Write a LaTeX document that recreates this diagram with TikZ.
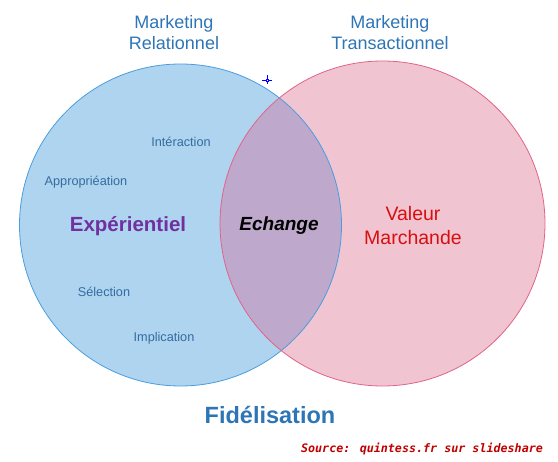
\documentclass[tikz,border=0pt]{standalone}
\usepackage{fontspec}
\setmainfont{Liberation Sans}
\newfontfamily\srcfont{DejaVu Sans Mono}
\usetikzlibrary{positioning}

\definecolor{leftfill}{RGB}{174,212,239}
\definecolor{leftline}{RGB}{74,157,222}
\definecolor{rightfill}{RGB}{241,196,210}
\definecolor{rightline}{RGB}{224,100,138}
\definecolor{overlapfill}{RGB}{190,168,204}
\definecolor{headblue}{RGB}{46,117,182}
\definecolor{itemblue}{RGB}{52,108,160}
\definecolor{expurple}{RGB}{112,48,160}
\definecolor{valred}{RGB}{215,15,15}
\definecolor{srcred}{RGB}{192,0,0}

\begin{document}
\begin{tikzpicture}[
    x=1pt, y=-1pt,
    heading/.style={align=center, text=headblue, font=\fontsize{18}{21}\selectfont, inner sep=0pt},
    item/.style={text=itemblue, font=\fontsize{12.7}{15}\selectfont, inner sep=0pt},
    area/.style={inner sep=0pt, align=center},
]
    \useasboundingbox (0,0) rectangle (558,462);

    % Circles
    \coordinate (relc) at (180.5,225);
    \coordinate (tranc) at (382.5,223.5);
    \fill[leftfill] (relc) circle[radius=161pt];
    \fill[rightfill] (tranc) circle[radius=162.5pt];
    \begin{scope}
        \clip (relc) circle[radius=161pt];
        \fill[overlapfill] (tranc) circle[radius=162.5pt];
    \end{scope}
    \draw[leftline, line width=0.8pt] (relc) circle[radius=161pt];
    \draw[rightline, line width=0.8pt] (tranc) circle[radius=162.5pt];

    % Headings
    \node[heading] (rel) at (174,33) {Marketing\\Relationnel};
    \node[heading] (tran) at (390,33) {Marketing\\Transactionnel};

    % Marker
    \draw[blue, thick] (262,80) -- (272,80) (267,75.5) -- (267,84);
    \draw[blue, fill=white] (265.8,78.8) rectangle (268.2,81.2);

    % Relational items
    \node[item] (inter) at (181,142) {Intéraction};
    \node[item] (appro) at (86,182) {Appropriéation};
    \node[item] (selec) at (104,292) {Sélection};
    \node[item] (impli) at (164,338) {Implication};

    % Areas
    \node[area, text=expurple, font=\fontsize{20.5}{24}\bfseries] (exper) at (128,226) {Expérientiel};
    \node[area, font=\fontsize{19}{22}\bfseries\itshape] (echan) at (279,226) {Echange};
    \node[area, text=valred, font=\fontsize{19.5}{24}\selectfont] (valeur) at (413,226) {Valeur\\Marchande};

    % Bottom
    \node[area, text=headblue, font=\fontsize{23.5}{27}\bfseries] (fidel) at (270,415) {Fidélisation};
    \node[area, text=srcred, font=\srcfont\fontsize{11.7}{14}\bfseries\itshape] (source) at (422,449) {Source: quintess.fr sur slideshare};
\end{tikzpicture}
\end{document}
